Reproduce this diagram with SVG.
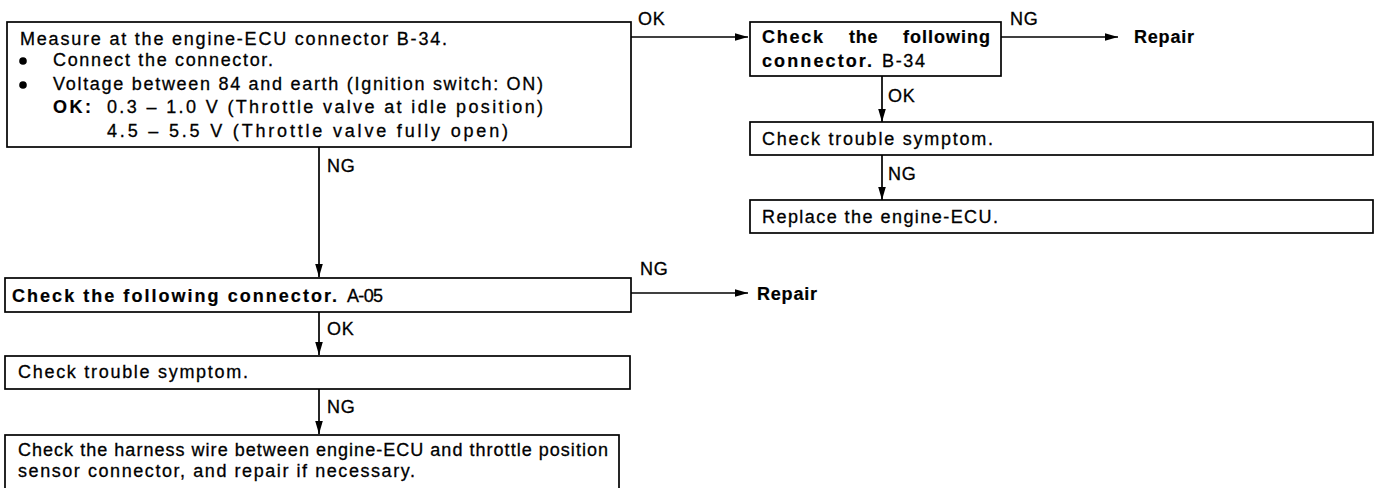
<svg xmlns="http://www.w3.org/2000/svg" width="1375" height="488" viewBox="0 0 1375 488">
<style>
text{font-family:"Liberation Sans",Arial,sans-serif;font-size:18px;fill:#000;stroke:#000;stroke-width:0.3px}
.b{font-weight:bold;stroke-width:0.2px}
.l{letter-spacing:0.8px}
.box{fill:#fff;stroke:#000;stroke-width:1.7}
.c{fill:none;stroke:#000;stroke-width:1.7}
</style>
<defs>
<marker id="ah" markerUnits="userSpaceOnUse" markerWidth="14" markerHeight="10" refX="13" refY="5" orient="auto">
<path d="M0,1.2 L13,5 L0,8.8 Z" fill="#000"/>
</marker>
</defs>
<rect width="1375" height="488" fill="#fff"/>
<g id="connectors">
<path class="c" d="M631,37 H748" marker-end="url(#ah)"/>
<path class="c" d="M1001,37 H1118" marker-end="url(#ah)"/>
<path class="c" d="M882,76 V122" marker-end="url(#ah)"/>
<path class="c" d="M882,155 V200" marker-end="url(#ah)"/>
<path class="c" d="M319,147 V277" marker-end="url(#ah)"/>
<path class="c" d="M631,293 H748" marker-end="url(#ah)"/>
<path class="c" d="M319,312 V355" marker-end="url(#ah)"/>
<path class="c" d="M319,389 V434" marker-end="url(#ah)"/>
<text class="l" x="638" y="25">OK</text>
<text class="l" x="1010" y="25">NG</text>
<text class="l" x="888" y="102">OK</text>
<text class="l" x="888" y="180">NG</text>
<text class="l" x="327" y="172">NG</text>
<text class="l" x="640" y="275">NG</text>
<text class="l" x="327" y="335">OK</text>
<text class="l" x="327" y="413">NG</text>
</g>
<g id="measure">
<rect class="box" x="7" y="22" width="624" height="125"/>
<text x="20" y="45" textLength="427" lengthAdjust="spacing">Measure at the engine-ECU connector B-34.</text>
<circle cx="23" cy="61" r="3.8" fill="#000"/>
<text x="53" y="66" textLength="220" lengthAdjust="spacing">Connect the connector.</text>
<circle cx="23" cy="85" r="3.8" fill="#000"/>
<text x="53" y="90" textLength="490" lengthAdjust="spacing">Voltage between 84 and earth (Ignition switch: ON)</text>
<text x="53" y="113" class="b" textLength="38" lengthAdjust="spacing">OK:</text>
<text x="107" y="113" textLength="436" lengthAdjust="spacing">0.3 – 1.0 V (Throttle valve at idle position)</text>
<text x="107" y="137" textLength="401" lengthAdjust="spacing">4.5 – 5.5 V (Throttle valve fully open)</text>
</g>
<g id="checkB34">
<rect class="box" x="750" y="22" width="251" height="54"/>
<text x="762" y="43" class="b" textLength="61" lengthAdjust="spacing">Check</text>
<text x="849" y="43" class="b l">the</text>
<text x="903" y="43" class="b" textLength="87" lengthAdjust="spacing">following</text>
<text x="762" y="67" class="b" textLength="110" lengthAdjust="spacing">connector.</text>
<text x="882" y="67" textLength="43" lengthAdjust="spacing">B-34</text>
</g>
<g id="repair1">
<text x="1134" y="43" class="b l">Repair</text>
</g>
<g id="symptomR">
<rect class="box" x="750" y="122" width="623" height="33"/>
<text x="762" y="145" textLength="231" lengthAdjust="spacing">Check trouble symptom.</text>
</g>
<g id="replace">
<rect class="box" x="750" y="200" width="623" height="33"/>
<text x="762" y="223" textLength="236" lengthAdjust="spacing">Replace the engine-ECU.</text>
</g>
<g id="checkA05">
<rect class="box" x="5" y="278" width="626" height="34"/>
<text x="12" y="302" class="b" textLength="325" lengthAdjust="spacing">Check the following connector.</text>
<text x="347" y="302" textLength="36" lengthAdjust="spacing">A-05</text>
</g>
<g id="repair2">
<text x="757" y="300" class="b l">Repair</text>
</g>
<g id="symptomL">
<rect class="box" x="5" y="356" width="625" height="33"/>
<text x="18" y="378" textLength="230" lengthAdjust="spacing">Check trouble symptom.</text>
</g>
<g id="harness">
<rect class="box" x="5" y="435" width="614" height="60"/>
<text x="18" y="456" textLength="590" lengthAdjust="spacing">Check the harness wire between engine-ECU and throttle position</text>
<text x="18" y="477" textLength="397" lengthAdjust="spacing">sensor connector, and repair if necessary.</text>
</g>
</svg>
